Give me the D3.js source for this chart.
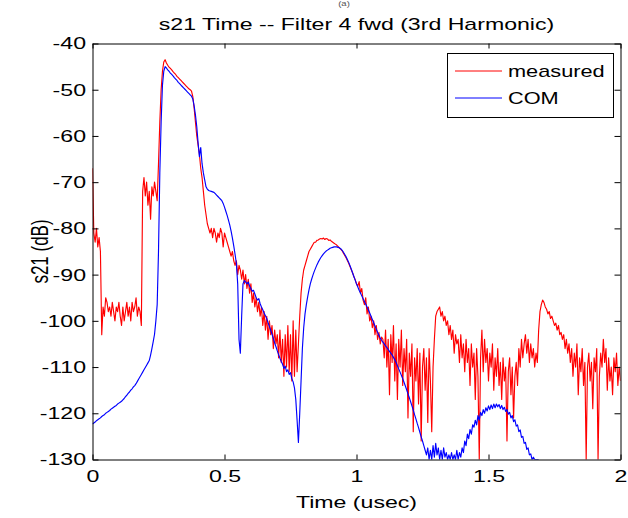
<!DOCTYPE html>
<html><head><meta charset="utf-8">
<script src="https://cdn.jsdelivr.net/npm/d3@7"></script>
<style>html,body{margin:0;padding:0;background:#fff;} svg{display:block;}</style>
</head><body>
<svg id="chart" width="628" height="518"></svg>
<script>
const titleText = "s21 Time -- Filter 4 fwd (3rd Harmonic)";
const panelText = "(a)";
const xLabelText = "Time (usec)";
const yLabelText = "s21 (dB)";
const seriesNames = ["measured", "COM"];
const seriesColors = ["#ff0000", "#0000ff"];
const xTicks = [0, 0.5, 1, 1.5, 2];
const xTickLabels = ["0", "0.5", "1", "1.5", "2"];
const yTicks = [-40, -50, -60, -70, -80, -90, -100, -110, -120, -130];
const yTickLabels = ["-40", "-50", "-60", "-70", "-80", "-90", "-100", "-110", "-120", "-130"];
const sampleStep = 0.005; // usec between samples

const measured = [
 -67, -81, -83, -80, -84, -82, -85, -103, -97, -99, -95, -96, -98, -97, -99, -96, -98, -100, -97, -98,
 -96, -99, -101, -97, -100, -98, -96, -99, -97, -100, -96, -98, -97, -95, -99, -97, -98, -101, -72, -69,
 -73, -70, -75, -72, -78, -71, -73, -70, -72, -74, -66, -57, -50, -46, -44, -43.5, -44.2, -44.7, -45.1, -45.4,
 -45.7, -46.1, -46.4, -46.7, -47.1, -47.4, -47.7, -48.0, -48.3, -48.6, -48.9, -49.2, -49.5, -49.8, -50.0, -50.3, -51.5, -54, -57, -60,
 -62, -64, -67, -69, -72, -75, -77, -79, -80, -81, -80, -82, -80, -81, -83, -81, -82, -80, -81, -84,
 -81, -82, -83, -84, -85, -86, -85, -87, -88, -87, -90, -88, -89, -91, -89, -92, -90, -93, -91, -94,
 -92, -96, -94, -97, -95, -98, -96, -99, -97, -101, -98, -102, -99, -104, -100, -103, -101, -106, -102, -105,
 -103, -108, -102, -109, -104, -112, -103, -110, -101, -111, -103, -113, -100, -112, -102, -111, -105, -99, -94, -91,
 -89, -88, -87, -86, -85, -84.5, -84, -83.5, -83, -83, -82.6, -82.5, -82.3, -82.2, -82.3, -82.1, -82.4, -82.2, -82.3, -82.6,
 -82.5, -82.8, -83, -83.2, -83.4, -83.6, -83.9, -84.2, -84.5, -84.8, -85.3, -85.8, -86.3, -86.9, -87.5, -88.2, -88.9, -89.6, -90.4, -91.1,
 -92, -92.5, -91.5, -94, -93, -95.5, -96.5, -95, -98.5, -97, -100, -99, -101.5, -100, -103, -101, -104, -102.5, -105, -103.5,
 -104, -108, -102, -110, -104, -116, -103, -109, -101, -113, -105, -117, -104, -110, -102, -114, -106, -111, -104, -121,
 -107, -112, -105, -124, -108, -113, -106, -118, -107, -126, -110, -106, -115, -108, -122, -106, -113, -124, -110, -104,
 -99, -98, -97.5, -97, -99, -98, -100, -99, -101, -100, -103, -101, -104, -102, -107, -103, -105, -104, -109, -103,
 -108, -105, -111, -104, -109, -106, -114, -105, -110, -107, -117, -106, -112, -130, -108, -102, -111, -104, -109, -106,
 -113, -107, -110, -105, -115, -108, -112, -106, -114, -109, -117, -108, -113, -110, -126, -111, -108, -116, -110, -121,
 -112, -109, -114, -106, -110, -104, -108, -105, -103, -107, -104, -109, -105, -108, -106, -110, -107, -109, -102, -98,
 -96.5, -95.5, -96, -97, -97.5, -98.5, -98, -99.5, -99, -100, -101, -100.5, -102, -101, -103, -102.5, -104, -103, -106, -104,
 -107, -105, -109, -106, -112, -107, -110, -105, -116, -108, -111, -106, -114, -109, -130, -110, -107, -113, -109, -119,
 -108, -111, -106, -130, -112, -107, -110, -104, -109, -106, -115, -108, -113, -110, -116, -108, -111, -107, -114, -110, -113
];

const com = [
 -122.3, -122.1, -121.9, -121.6, -121.4, -121.2, -121.0, -120.7, -120.5, -120.3, -120.0, -119.8, -119.6, -119.4, -119.1, -118.9, -118.7, -118.5, -118.3, -118.0,
 -117.8, -117.6, -117.4, -117.1, -116.8, -116.4, -116.1, -115.7, -115.4, -115.0, -114.7, -114.3, -114.0, -113.6, -113.1, -112.6, -112.1, -111.6, -111.1, -110.6,
 -110.1, -109.6, -109.1, -108.6, -107.4, -106.0, -104.5, -102.9, -100, -96.5, -85, -68, -57, -49, -46, -45.0, -45.3, -45.7, -46.0, -46.4,
 -46.7, -47.0, -47.4, -47.7, -48.0, -48.4, -48.7, -49.0, -49.3, -49.6, -49.9, -50.2, -50.5, -50.8, -51.1, -51.4, -52.0, -53.5, -55.5, -58,
 -61.5, -64.5, -62.5, -66, -68, -69.5, -71, -71.5, -71.8, -71.9, -72.0, -72.1, -72.2, -72.5, -72.8, -73.1, -73.4, -73.7, -74.0, -74.6,
 -75.4, -76.3, -77.2, -78.2, -79.3, -80.6, -82.1, -83.8, -85.6, -87.6, -92, -104, -107, -99, -92, -91.3, -91.6, -92, -91.6, -92.5,
 -93, -93.6, -93.4, -94.2, -95, -95.5, -95.2, -96.3, -97, -97.6, -98.3, -98.9, -99.5, -100.4, -101.2, -102, -102.9, -103.8, -104.8, -105.6,
 -106.5, -107.3, -108.1, -108.8, -109.4, -110.3, -109.8, -111, -110.6, -111.6, -111.2, -112.5, -113.2, -114.5, -117, -121.5, -126.3, -120, -113, -106,
 -101.5, -98.5, -96.5, -94.8, -93.3, -92, -91, -90.1, -89.3, -88.6, -87.9, -87.3, -86.8, -86.3, -85.9, -85.5, -85.2, -84.9, -84.7, -84.5,
 -84.3, -84.2, -84.1, -84.0, -84.0, -84.0, -84.1, -84.2, -84.4, -84.7, -85.1, -85.6, -86.1, -86.7, -87.3, -88.0, -88.8, -89.6, -90.4, -91.2,
 -92.0, -92.7, -93.4, -94.0, -94.6, -95.2, -95.8, -96.4, -97.0, -97.6, -98.3, -99.0, -99.7, -100.4, -101.1, -101.8, -102.5, -103.1, -103.7, -104.2,
 -104.6, -105, -105.4, -105.8, -106.2, -106.6, -107, -107.4, -107.9, -108.4, -109, -109.7, -110.4, -111.1, -111.8, -112.5, -113.3, -114.1, -114.9, -115.8,
 -116.6, -117.5, -118.4, -119.3, -120.3, -121.2, -122.2, -123.1, -124.1, -125.1, -126, -127, -128, -129, -127.5, -130, -128, -130, -127, -129.5,
 -126.5, -129, -127.5, -130, -128, -130, -127.5, -129.5, -128.5, -130, -129, -130, -128.5, -130, -129, -130, -128, -130, -128.5, -129.5,
 -127.5, -128.5, -126, -127, -124.5, -125.5, -123.5, -124.5, -122.5, -123, -121.5, -122.5, -120.5, -121.5, -119.8, -120.5, -119.2, -120, -118.8, -119.5,
 -118.4, -119.2, -118.2, -119, -118, -118.8, -118, -118.6, -118.1, -119, -118.3, -119.2, -118.7, -119.6, -119.2, -120.2, -119.8, -121, -120.5, -121.8,
 -121.4, -122.8, -122.5, -124, -123.6, -125.2, -125, -126.5, -126.3, -127.8, -127.5, -129, -128.8, -130, -129.5, -130, -130, -130, -130
];

// ---------- drawing ----------
const FONT = "'Liberation Sans', Arial, Helvetica, sans-serif";
const SX = 1.36; // horizontal stretch of the original figure's text
const plot = {left: 92.5, right: 620.5, top: 43.5, bottom: 459.5};

const svg = d3.select("#chart");
svg.append("rect").attr("width", 628).attr("height", 518).attr("fill", "#fff");

const x = d3.scaleLinear().domain([0, 2]).range([plot.left, plot.right]);
const y = d3.scaleLinear().domain([-40, -130]).range([plot.top, plot.bottom]);

svg.append("defs").append("clipPath").attr("id", "clip")
  .append("rect").attr("x", plot.left).attr("y", plot.top)
  .attr("width", plot.right - plot.left).attr("height", plot.bottom - plot.top);

const seriesData = [measured, com].map(arr => arr.map((v, i) => ({t: i * sampleStep, v})));
const line = d3.line().x(d => x(d.t)).y(d => y(d.v));

const lines = svg.append("g").attr("clip-path", "url(#clip)");
seriesData.forEach((data, k) => {
  lines.append("path").datum(data)
    .attr("fill", "none").attr("stroke", seriesColors[k]).attr("stroke-width", 1.15)
    .attr("stroke-linejoin", "round")
    .attr("d", line);
});

// axes (box with inward ticks)
const xFmt = d => xTickLabels[xTicks.indexOf(d)];
const yFmt = d => yTickLabels[yTicks.indexOf(d)];

const gB = svg.append("g").attr("transform", `translate(0,${plot.bottom})`)
  .call(d3.axisBottom(x).tickValues(xTicks).tickFormat(xFmt).tickSize(-5).tickSizeOuter(0).tickPadding(10));
const gT = svg.append("g").attr("transform", `translate(0,${plot.top})`)
  .call(d3.axisTop(x).tickValues(xTicks).tickFormat("").tickSize(-5).tickSizeOuter(0));
const gL = svg.append("g").attr("transform", `translate(${plot.left},0)`)
  .call(d3.axisLeft(y).tickValues(yTicks).tickFormat(yFmt).tickSize(-6).tickSizeOuter(0).tickPadding(6.5));
const gR = svg.append("g").attr("transform", `translate(${plot.right},0)`)
  .call(d3.axisRight(y).tickValues(yTicks).tickFormat("").tickSize(-6).tickSizeOuter(0));

[gB, gT, gL, gR].forEach(g => {
  g.selectAll("path.domain").attr("stroke", "#000").attr("stroke-width", 1);
  g.selectAll(".tick line").attr("stroke", "#000").attr("stroke-width", 1);
  g.selectAll("text").attr("font-family", FONT).attr("font-size", 17).attr("fill", "#000");
});
gB.selectAll(".tick text").attr("transform", `scale(${SX},1)`);
gL.selectAll(".tick text").attr("x", -6.5 / SX).attr("transform", `scale(${SX},1)`);

function stretchedText(px, py, str, size, anchor, rot) {
  return svg.append("text")
    .attr("transform", `translate(${px},${py}) scale(${SX},1)` + (rot ? ` rotate(${rot})` : ""))
    .attr("font-family", FONT).attr("font-size", size).attr("fill", "#000")
    .attr("text-anchor", anchor).text(str);
}

// panel label above the title (mostly cut off in the original)
stretchedText(344, 6, panelText, 7, "middle").attr("fill", "#555");
// title
stretchedText((plot.left + plot.right) / 2, 30, titleText, 17, "middle");
// x label
stretchedText((plot.left + plot.right) / 2, 508, xLabelText, 17, "middle");
// y label
stretchedText(48, (plot.top + plot.bottom) / 2, yLabelText, 17, "middle", -90);

// legend
const leg = svg.append("g");
leg.append("rect").attr("x", 447.5).attr("y", 53.5).attr("width", 166).attr("height", 64)
  .attr("fill", "#fff").attr("stroke", "#000").attr("stroke-width", 1);
const legY = [71, 98];
seriesNames.forEach((name, k) => {
  leg.append("line").attr("x1", 455).attr("x2", 502).attr("y1", legY[k]).attr("y2", legY[k])
    .attr("stroke", seriesColors[k]).attr("stroke-width", 1);
  leg.append("text")
    .attr("transform", `translate(508,${legY[k]}) scale(${SX},1)`)
    .attr("dy", "0.35em")
    .attr("font-family", FONT).attr("font-size", 16).attr("fill", "#000")
    .text(name);
});
</script>
</body></html>
